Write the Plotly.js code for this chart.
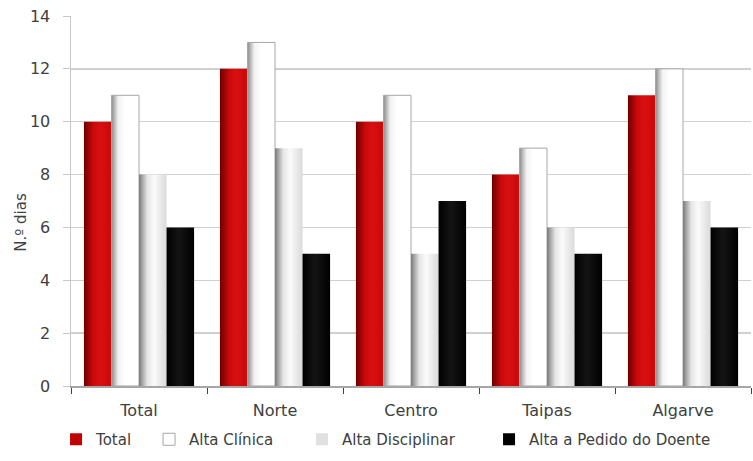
<!DOCTYPE html>
<html>
<head>
<meta charset="utf-8">
<script src="https://cdn.plot.ly/plotly-3.0.1.min.js"></script>
<style>
html,body{margin:0;padding:0;background:#fff;}
#chart{width:753px;height:461px;}
</style>
</head>
<body>
<div id="chart"></div>
<script>
const categories = ["Total", "Norte", "Centro", "Taipas", "Algarve"];
const seriesNames = ["Total", "Alta Clínica", "Alta Disciplinar", "Alta a Pedido do Doente"];
const totalVals = [10, 12, 10, 8, 11];
const altaClinicaVals = [11, 13, 11, 9, 12];
const altaDisciplinarVals = [8, 9, 5, 6, 7];
const altaPedidoVals = [6, 5, 7, 5, 6];
const yTickVals = [0, 2, 4, 6, 8, 10, 12, 14];

const legendColors = ["#c00000", "#ffffff", "#e0e0e0", "#000000"];
const lineColors = ["rgba(0,0,0,0)", "#a6a6a6", "rgba(0,0,0,0)", "rgba(0,0,0,0)"];
const legendWidths = [48, 108, 142, 200];
const allVals = [totalVals, altaClinicaVals, altaDisciplinarVals, altaPedidoVals];

const FONT = "'DejaVu Sans', sans-serif";

const traces = allVals.map((v, i) => ({
  type: "bar",
  name: seriesNames[i],
  x: categories,
  y: v,
  legendwidth: legendWidths[i],
  marker: { color: legendColors[i], line: { color: lineColors[i], width: i === 1 ? 1 : 0 } },
  hoverinfo: "x+y+name"
}));

const layout = {
  width: 753, height: 461,
  margin: { l: 71, r: 2, t: 16, b: 75 },
  paper_bgcolor: "#ffffff",
  plot_bgcolor: "#ffffff",
  font: { family: FONT, size: 15, color: "#404040" },
  barmode: "group",
  bargap: 0.19,
  bargroupgap: 0,
  showlegend: true,
  legend: {
    orientation: "h",
    x: -0.022, xanchor: "left",
    y: -0.1, yanchor: "top",
    font: { family: FONT, size: 15, color: "#404040" },
    itemwidth: 30,
    tracegroupgap: 0
  },
  xaxis: {
    type: "category",
    showline: true, linecolor: "#a6a6a6", linewidth: 1.5,
    ticks: "outside", tickson: "boundaries", ticklen: 6, tickcolor: "#404040", tickwidth: 1,
    ticklabelstandoff: 9,
    showgrid: false, zeroline: false,
    tickfont: { family: FONT, size: 16, color: "#404040" },
    fixedrange: true
  },
  yaxis: {
    range: [0, 14],
    tickvals: yTickVals,
    ticktext: yTickVals.map(String),
    showline: true, linecolor: "#c8c8c8", linewidth: 1.5,
    ticks: "outside", ticklen: 7, tickcolor: "#c8c8c8", tickwidth: 1,
    ticklabelstandoff: 9,
    showgrid: true, gridcolor: "#d0d0d0", gridwidth: 1.5,
    zeroline: false,
    tickfont: { family: FONT, size: 16, color: "#404040" },
    fixedrange: true
  },
  annotations: [{
    text: "N.º dias",
    xref: "paper", yref: "paper",
    x: -0.074, y: 0.443,
    xanchor: "center", yanchor: "middle",
    textangle: -90,
    showarrow: false,
    font: { family: FONT, size: 15, color: "#404040" }
  }]
};

const gradients = [
  [["0%", "#6e0000"], ["35%", "#cc0a0a"], ["60%", "#d81010"], ["100%", "#c80808"]],
  [["0%", "#8a8a8a"], ["25%", "#f2f2f2"], ["50%", "#ffffff"], ["100%", "#ffffff"]],
  [["0%", "#7a7a7a"], ["30%", "#e6e6e6"], ["55%", "#fafafa"], ["100%", "#dadada"]],
  [["0%", "#000000"], ["45%", "#141414"], ["100%", "#000000"]]
];

Plotly.newPlot("chart", traces, layout, { displayModeBar: false, staticPlot: true }).then(gd => {
  const NS = "http://www.w3.org/2000/svg";
  const svg = gd.querySelector(".main-svg");
  const defs = document.createElementNS(NS, "defs");
  gradients.forEach((stops, i) => {
    const lg = document.createElementNS(NS, "linearGradient");
    lg.setAttribute("id", "bargrad" + i);
    lg.setAttribute("x1", "0"); lg.setAttribute("y1", "0");
    lg.setAttribute("x2", "1"); lg.setAttribute("y2", "0");
    stops.forEach(s => {
      const st = document.createElementNS(NS, "stop");
      st.setAttribute("offset", s[0]);
      st.setAttribute("stop-color", s[1]);
      lg.appendChild(st);
    });
    defs.appendChild(lg);
  });
  svg.insertBefore(defs, svg.firstChild);
  const barTraces = gd.querySelectorAll(".barlayer .trace");
  barTraces.forEach((tr, i) => {
    tr.querySelectorAll("path").forEach(p => {
      p.style.fill = "url(#bargrad" + i + ")";
    });
  });
});
</script>
</body>
</html>
